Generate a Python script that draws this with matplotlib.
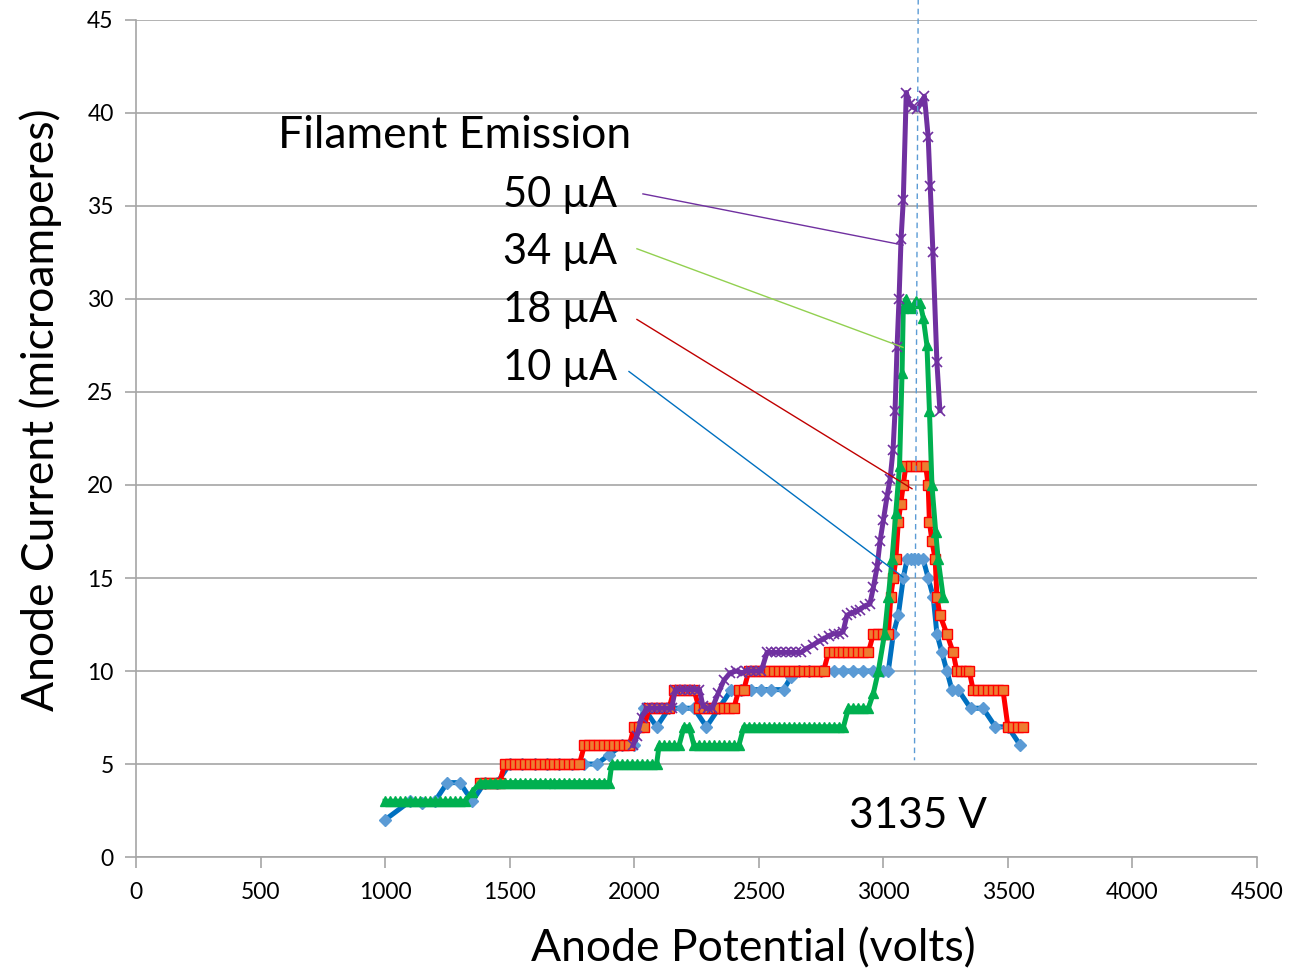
import matplotlib
matplotlib.use("Agg")
import matplotlib.pyplot as plt

plt.rcParams['font.family'] = ['Lato', 'DejaVu Sans']

# 10 uA filament emission
volts_10 = [1000, 1100, 1150, 1200, 1250, 1300, 1350, 1400, 1450,
            1500, 1550, 1600, 1650, 1700, 1750, 1800, 1850, 1900, 1950,
            2000, 2040, 2090, 2140, 2190, 2240, 2290, 2340, 2390, 2430,
            2470, 2510, 2550, 2600, 2630, 2660, 2700, 2750, 2800, 2840,
            2880, 2920, 2960, 3000, 3020, 3040, 3060, 3080, 3095, 3110,
            3125, 3140, 3160, 3180, 3200, 3215, 3235, 3255, 3275, 3300,
            3350, 3400, 3450, 3500, 3550]
amps_10 = [2, 3, 2.9, 3, 4, 4, 3, 4, 4,
           5, 5, 5, 5, 5, 5, 5, 5, 5.5, 6,
           6, 8, 7, 8, 8, 8, 7, 8, 9, 9,
           9, 9, 9, 9, 9.7, 10, 10, 10, 10, 10,
           10, 10, 10, 10, 10, 12, 13, 15, 16, 16,
           16, 16, 16, 15, 14, 12, 11, 10, 9, 9,
           8, 8, 7, 7, 6]

# 18 uA filament emission
volts_18 = [1380, 1400, 1420, 1440, 1460,
            1480, 1500, 1520, 1540, 1560, 1580, 1600, 1620, 1640, 1660, 1680,
            1700, 1720, 1740, 1760, 1780,
            1800, 1820, 1840, 1860, 1880, 1900, 1920, 1940, 1960, 1980,
            2000, 2020, 2040,
            2060, 2080, 2100, 2120, 2140,
            2160, 2180, 2200, 2220, 2240,
            2260, 2280, 2300, 2320, 2340, 2360, 2380, 2400,
            2420, 2440,
            2460, 2480, 2500, 2520, 2540, 2560, 2580, 2600, 2620, 2640, 2660,
            2680, 2700, 2720, 2740, 2760,
            2780, 2800, 2820, 2840, 2860, 2880, 2900, 2920, 2940,
            2960, 2980, 3000, 3020,
            3030, 3040, 3050, 3060, 3070, 3080,
            3090, 3110, 3130, 3150, 3170,
            3180, 3185, 3195, 3208, 3215, 3227, 3255, 3280,
            3295, 3310, 3330, 3345,
            3360, 3380, 3400, 3420, 3440, 3460, 3480,
            3500, 3520, 3540, 3560]
amps_18 = [4, 4, 4, 4, 4,
           5, 5, 5, 5, 5, 5, 5, 5, 5, 5, 5,
           5, 5, 5, 5, 5,
           6, 6, 6, 6, 6, 6, 6, 6, 6, 6,
           7, 7, 7,
           8, 8, 8, 8, 8,
           9, 9, 9, 9, 9,
           8, 8, 8, 8, 8, 8, 8, 8,
           9, 9,
           10, 10, 10, 10, 10, 10, 10, 10, 10, 10, 10,
           10, 10, 10, 10, 10,
           11, 11, 11, 11, 11, 11, 11, 11, 11,
           12, 12, 12, 12,
           14, 15, 16, 18, 19, 20,
           21, 21, 21, 21, 21,
           20, 18, 17, 16, 14, 13, 12, 11,
           10, 10, 10, 10,
           9, 9, 9, 9, 9, 9, 9,
           7, 7, 7, 7]

# 34 uA filament emission
volts_34 = [1000, 1020, 1040, 1060, 1080, 1100, 1120, 1140, 1160, 1180,
            1200, 1220, 1240, 1260, 1280, 1300, 1320, 1350,
            1380, 1400, 1420, 1440, 1460, 1480, 1500, 1520, 1540, 1560,
            1580, 1600, 1620, 1640, 1660, 1680, 1700, 1720, 1740, 1760,
            1780, 1800, 1820, 1840, 1860, 1880, 1900,
            1910, 1930, 1950, 1970, 1990, 2010, 2030, 2050, 2070, 2090,
            2100, 2120, 2140, 2160, 2180,
            2200, 2220,
            2240, 2260, 2280, 2300, 2320, 2340, 2360, 2380, 2400, 2420,
            2440, 2460, 2480, 2500, 2520, 2540, 2560, 2580, 2600, 2620,
            2640, 2660, 2680, 2700, 2720, 2740, 2760, 2780, 2800, 2820, 2840,
            2860, 2880, 2900, 2920, 2940,
            2960, 2980, 3005, 3020, 3035, 3050, 3065, 3075, 3080,
            3090, 3100, 3115, 3130, 3147, 3160, 3175, 3185, 3195, 3210,
            3220, 3240]
amps_34 = [3, 3, 3, 3, 3, 3, 3, 3, 3, 3,
           3, 3, 3, 3, 3, 3, 3, 3.5,
           4, 4, 4, 4, 4, 4, 4, 4, 4, 4,
           4, 4, 4, 4, 4, 4, 4, 4, 4, 4,
           4, 4, 4, 4, 4, 4, 4,
           5, 5, 5, 5, 5, 5, 5, 5, 5, 5,
           6, 6, 6, 6, 6,
           7, 7,
           6, 6, 6, 6, 6, 6, 6, 6, 6, 6,
           7, 7, 7, 7, 7, 7, 7, 7, 7, 7,
           7, 7, 7, 7, 7, 7, 7, 7, 7, 7, 7,
           8, 8, 8, 8, 8,
           8.8, 10, 12, 14, 16, 18.5, 21, 26, 29.5,
           30, 29.7, 29.5, 29.9, 29.8, 29, 27.5, 24, 20, 17.5,
           16, 14]

# 50 uA filament emission
volts_50 = [1995, 2010, 2030, 2050, 2070, 2090, 2110, 2130, 2150,
            2165, 2185, 2205, 2225, 2245, 2262, 2276, 2295, 2313, 2337,
            2360, 2385, 2410, 2433, 2450, 2470, 2490, 2510, 2533,
            2550, 2570, 2590, 2610, 2630, 2650, 2670, 2690, 2718, 2740,
            2758, 2780, 2800, 2820, 2838, 2854, 2870, 2890, 2906, 2925,
            2946, 2960, 2975, 2987, 3000, 3015, 3027, 3039, 3047, 3055,
            3063, 3071, 3080, 3092, 3105, 3120, 3135, 3150, 3165, 3180,
            3188, 3199, 3215, 3227]
amps_50 = [6, 6.5, 7.5, 8, 8, 8, 8, 8, 8,
           9, 9, 9, 9, 9, 9, 8.1, 8, 8, 8.8,
           9.5, 9.9, 10, 9.9, 10, 10, 10, 10, 11,
           11, 11, 11, 11, 11, 11, 11, 11.2, 11.4, 11.6,
           11.7, 11.9, 12, 12, 12.1, 13, 13.1, 13.2, 13.3, 13.5,
           13.6, 14.5, 15.6, 17, 18.1, 19.4, 20.3, 21.9, 24, 27.4,
           30, 33.2, 35.3, 41.1, 40.5, 40.3, 40.2, 40.5, 40.9, 38.7,
           36.1, 32.5, 26.6, 24]

fig = plt.figure(figsize=(12.91, 9.74), dpi=100)
ax = fig.add_axes([0.1053, 0.1201, 0.8684, 0.8594])

ax.plot(volts_10, amps_10, color='#0070C0', lw=3.6, marker='D', ms=6.5,
        mfc='#5B9BD5', mec='#5B9BD5', zorder=3)
ax.plot(volts_18, amps_18, color='#FF0000', lw=3.6, marker='s', ms=7.5,
        mfc='#ED7D31', mec='#FF0000', mew=1.0, zorder=4)
ax.plot(volts_34, amps_34, color='#00B050', lw=3.6, marker='^', ms=7.5,
        mfc='#00B050', mec='#00B050', zorder=5)
ax.plot(volts_50, amps_50, color='#7030A0', lw=3.6, marker='x', ms=7,
        mec='#7030A0', mew=1.2, zorder=6)

ax.set_xlim(0, 4500)
ax.set_ylim(0, 45)
ax.set_xticks(range(0, 4501, 500))
ax.set_yticks(range(0, 46, 5))
ax.grid(axis='y', color='#A6A6A6', lw=1.2)
ax.set_axisbelow(True)
for s in ['top', 'right']:
    ax.spines[s].set_visible(False)
for s in ['left', 'bottom']:
    ax.spines[s].set_color('#A6A6A6')
    ax.spines[s].set_linewidth(1.2)
ax.tick_params(axis='both', colors='#A6A6A6', length=8, width=1.2,
               labelcolor='black', labelsize=16.5)
ax.tick_params(axis='x', pad=10)
ax.tick_params(axis='y', pad=8)

ax.set_xlabel('Anode Potential (volts)', fontsize=32)
ax.set_ylabel('Anode Current (microamperes)', fontsize=32)
ax.xaxis.set_label_coords(0.5504, -0.085)
ax.yaxis.set_label_coords(-0.066, 0.534)

# dashed marker at the peak voltage
ax.plot([3140, 3125], [46.2, 5.2], color='#5B9BD5', lw=1.0, ls=(0, (4, 3)),
        clip_on=False, zorder=7)
ax.text(3139, 2.2, '3135 V', fontsize=30.5, ha='center', va='center')

ax.text(570, 38.8, 'Filament Emission', fontsize=32, ha='left', va='center')

# labels and leader lines
leaders = [
    ("50 µA", 35.6, '#7030A0', (2035, 35.65), (3079, 32.9)),
    ("34 µA", 32.5, '#92D050', (2011, 32.7), (3079, 27.4)),
    ("18 µA", 29.4, '#C00000', (2011, 28.9), (3115, 19.8)),
    ("10 µA", 26.3, '#0070C0', (1979, 26.1), (3079, 15.05)),
]
for text, ty, col, p0, p1 in leaders:
    ax.text(1930, ty, text, fontsize=30, ha='right', va='center')
    ax.plot([p0[0], p1[0]], [p0[1], p1[1]], color=col, lw=1.0, zorder=8)

fig.savefig('out.png', dpi=100)
